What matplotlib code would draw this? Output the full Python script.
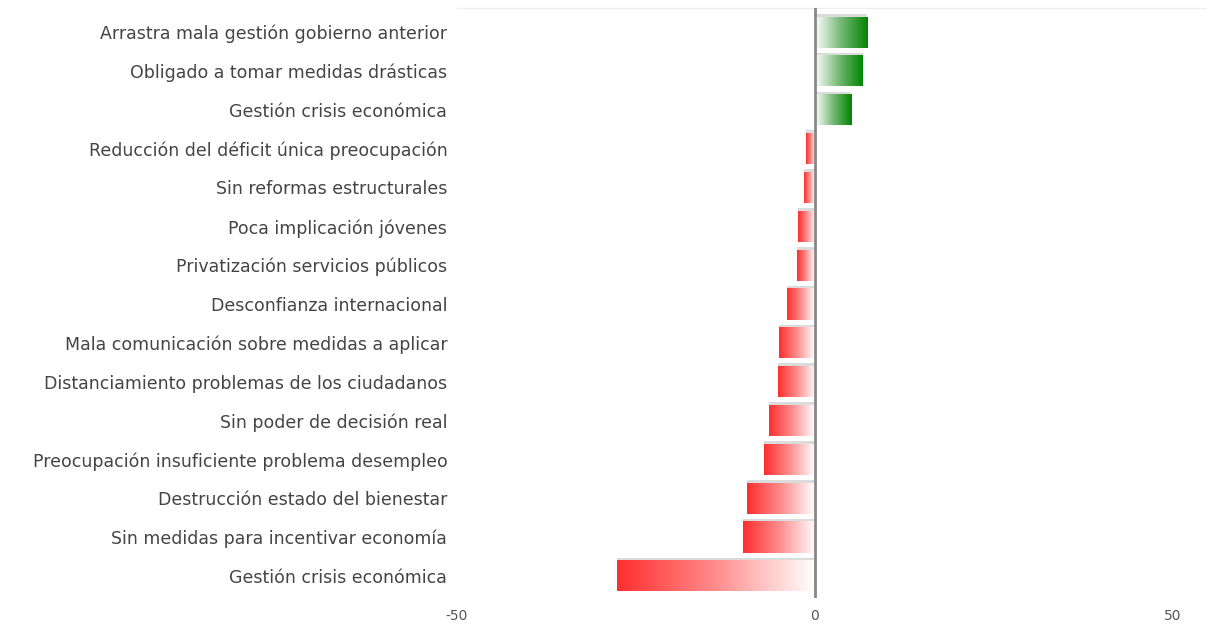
import numpy as np
import matplotlib
matplotlib.use("Agg")
import matplotlib.pyplot as plt
from matplotlib.colors import LinearSegmentedColormap
from matplotlib.patches import Rectangle

plt.rcParams["font.family"] = ["DejaVu Sans"]

categories = [
    "Arrastra mala gestión gobierno anterior",
    "Obligado a tomar medidas drásticas",
    "Gestión crisis económica",
    "Reducción del déficit única preocupación",
    "Sin reformas estructurales",
    "Poca implicación jóvenes",
    "Privatización servicios públicos",
    "Desconfianza internacional",
    "Mala comunicación sobre medidas a aplicar",
    "Distanciamiento problemas de los ciudadanos",
    "Sin poder de decisión real",
    "Preocupación insuficiente problema desempleo",
    "Destrucción estado del bienestar",
    "Sin medidas para incentivar economía",
    "Gestión crisis económica",
]
values = [7.3, 6.7, 5.1, -1.3, -1.5, -2.4, -2.5, -3.9, -5.0, -5.2, -6.4, -7.1, -9.5, -10.1, -27.6]
xticks = [-50, 0, 50]

fig = plt.figure(figsize=(12.09, 6.43), dpi=100)
W, H = 1209, 643
left_px, right_px, top_px, bottom_px = 457, 1205, 8, 598
ax = fig.add_axes([left_px / W, 1 - bottom_px / H, (right_px - left_px) / W, (bottom_px - top_px) / H])

n = len(categories)
ax.set_xlim(-50, 54.5)
ax.set_ylim(n - 1 + 0.57, -0.62)

red_cmap = LinearSegmentedColormap.from_list("r", [(1.0, 0.18, 0.18), (1.0, 0.55, 0.55), (1.0, 1.0, 1.0)])
green_cmap = LinearSegmentedColormap.from_list("g", [(1.0, 1.0, 1.0), (0.45, 0.72, 0.45), (0.0, 0.52, 0.0)])
grad = np.linspace(0, 1, 256).reshape(1, -1)
h = 0.8
for i, v in enumerate(values):
    x0, x1 = (min(0, v), max(0, v))
    y0, y1 = i - h / 2, i + h / 2
    sh = Rectangle((x0, y0 - 0.07), x1 - x0, h, facecolor="#cccccc", edgecolor="none", zorder=1, alpha=0.7)
    ax.add_patch(sh)
    rect = Rectangle((x0, y0), x1 - x0, h, facecolor="none", edgecolor="none", zorder=2)
    ax.add_patch(rect)
    cmap = green_cmap if v > 0 else red_cmap
    im = ax.imshow(grad, cmap=cmap, aspect="auto", extent=(x0, x1, y1, y0), zorder=2, interpolation="bilinear")
    im.set_clip_path(rect)

ax.set_xlim(-50, 54.5)
ax.set_ylim(n - 1 + 0.57, -0.62)
ax.axvline(0, color="#888888", lw=2, zorder=3)

ax.set_yticks(range(n))
ax.set_yticklabels(categories, fontsize=12.5, color="#444444")
ax.set_xticks(xticks)
ax.set_xticklabels([str(t) for t in xticks], fontsize=10, color="#555555")
ax.tick_params(axis="both", length=0)
ax.tick_params(axis="y", pad=7)
ax.tick_params(axis="x", pad=8)
for s in ["left", "right", "bottom"]:
    ax.spines[s].set_visible(False)
ax.spines["top"].set_color("#f0f0f0")
ax.spines["top"].set_linewidth(1)

fig.savefig("out.png", dpi=100, facecolor="white")
